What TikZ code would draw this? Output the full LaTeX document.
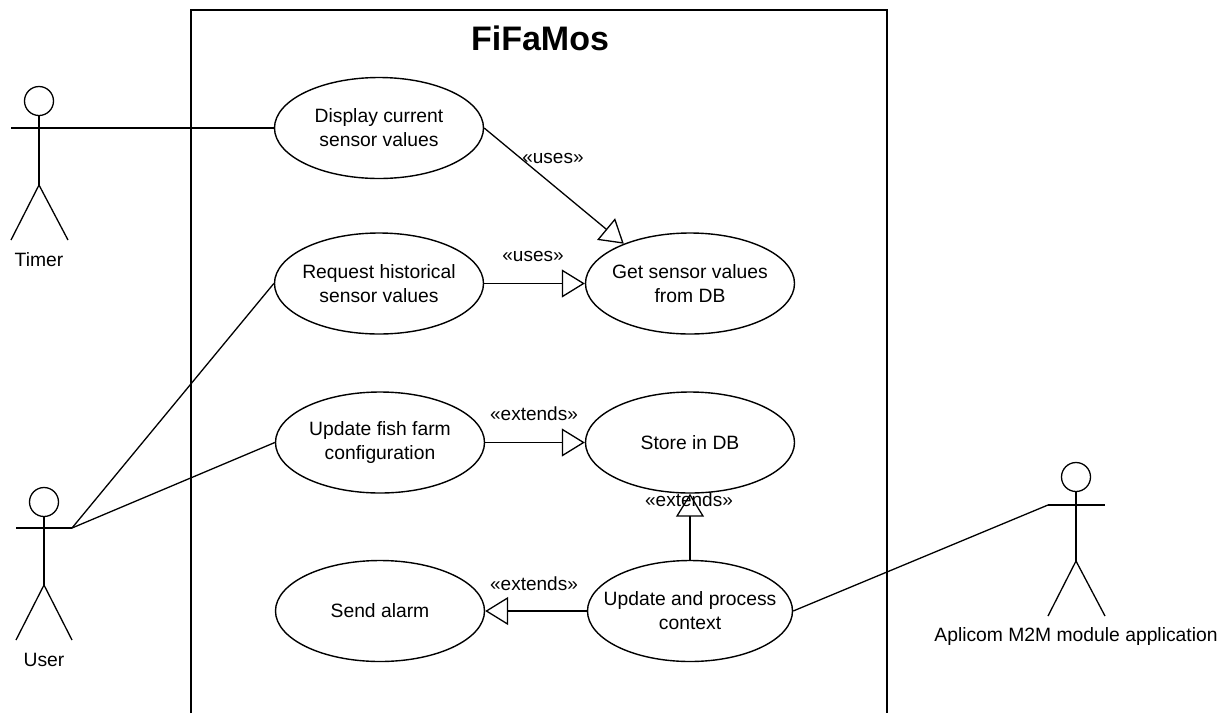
\documentclass[tikz,border=0pt]{standalone}
\usepackage{fontspec}
\setmainfont{Liberation Sans}
\usetikzlibrary{arrows.meta}
\usetikzlibrary{shapes.geometric}
\tikzset{
  usecase/.style={draw, ellipse, line width=1.4pt, minimum width=209pt, minimum height=101pt, align=center, inner sep=-30pt, font=\fontsize{19.3}{24}\selectfont},
  actorhead/.style={draw, circle, line width=1.3pt, minimum size=29pt, inner sep=0pt},
  actorline/.style={line width=1.3pt},
  actorname/.style={font=\fontsize{19.3}{22}\selectfont},
  stereo/.style={font=\fontsize{19}{22}\selectfont},
  assoc/.style={line width=1.3pt},
  rel/.style={line width=1.3pt, -{Triangle[open, length=23pt, width=28pt, line width=1.3pt]}}
}
\begin{document}
\begin{tikzpicture}[x=1pt, y=-1pt]
\useasboundingbox (0,0) rectangle (1229,713);

% System boundary
\draw[line width=1.4pt] (191,713) -- (191,10) -- (887,10) -- (887,713);
\node[font=\bfseries\fontsize{34}{38}\selectfont] (title) at (540,38) {FiFaMos};

% Use cases
\node[usecase] (display) at (379,128) {Display current\\sensor values};
\node[usecase] (request) at (379,283.5) {Request historical\\sensor values};
\node[usecase] (getdb) at (690,283.5) {Get sensor values\\from DB};
\node[usecase] (config) at (380,442.5) {Update fish farm\\configuration};
\node[usecase] (store) at (690,442.5) {Store in DB};
\node[usecase] (alarm) at (380,611) {Send alarm};
\node[usecase, minimum width=205pt] (context) at (690,611) {Update and process\\context};

% Timer
\node[actorhead] (timerhead) at (39,101) {};
\coordinate (timerhip) at (39,185);
\coordinate (timerhand) at (11,128);
\node[actorname] (timer) at (39,260) {Timer};
\draw[actorline] (timerhead) -- (timerhip);
\draw[actorline] (11,240) -- (timerhip) -- (68,240);

% User
\node[actorhead] (userhead) at (44,502) {};
\coordinate (userhip) at (44,585);
\coordinate (userlefthand) at (16,528);
\coordinate (userhand) at (72,528);
\node[actorname] (user) at (44,660) {User};
\draw[actorline] (userhead) -- (userhip);
\draw[actorline] (userlefthand) -- (userhand);
\draw[actorline] (16,640) -- (userhip) -- (72,640);

% Aplicom
\node[actorhead] (apphead) at (1076,477) {};
\coordinate (apphip) at (1076,561);
\coordinate (apphand) at (1048,505);
\coordinate (apprighthand) at (1105,505);
\node[actorname] (app) at (1076,636) {Aplicom M2M module application};
\draw[actorline] (apphead) -- (apphip);
\draw[actorline] (apphand) -- (apprighthand);
\draw[actorline] (1048,616) -- (apphip) -- (1105,616);

% Associations
\draw[assoc] (timerhand) -- (display.west);
\draw[assoc] (userhand) -- (request.west);
\draw[assoc] (userhand) -- (config.west);
\draw[assoc] (apphand) -- (context.east);

% Relations
\draw[rel] (display.east) -- (getdb.149);
\draw[rel] (request.east) -- (getdb.west);
\draw[rel] (config.east) -- (store.west);
\draw[rel] (context.north) -- (store.south);
\draw[rel] (context.west) -- (alarm.east);

% Stereotypes
\node[stereo] (uses1) at (553,158) {«uses»};
\node[stereo] (uses2) at (533,256) {«uses»};
\node[stereo] (extends1) at (534,414) {«extends»};
\node[stereo] (extends2) at (689,500) {«extends»};
\node[stereo] (extends3) at (534,584) {«extends»};
\end{tikzpicture}
\end{document}
